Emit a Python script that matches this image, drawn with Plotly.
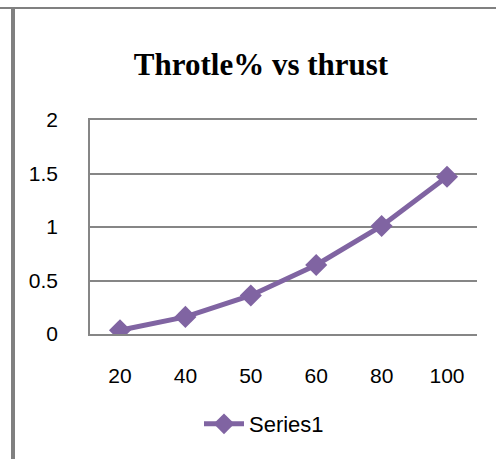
import plotly.graph_objects as go

categories = ["20", "40", "50", "60", "80", "100"]
thrust = [0.035, 0.16, 0.36, 0.645, 1.01, 1.47]
y_ticks = [0, 0.5, 1, 1.5, 2]
y_tick_labels = ["0", "0.5", "1", "1.5", "2"]

W, H = 496, 459
L, R, T, B = 90, 19, 120, 125
pw, ph = W - L - R, H - T - B

def px_x(p):
    return (p - L) / pw

def px_y(p):
    return (H - B - p) / ph

purple = "#8064A2"
grid = "#868686"

fig = go.Figure()
fig.add_trace(go.Scatter(
    x=categories, y=thrust, mode="lines+markers", name="Series1",
    line=dict(color=purple, width=5),
    marker=dict(symbol="diamond", size=17, color=purple),
))

fig.update_layout(
    width=W, height=H,
    margin=dict(l=L, r=R, t=T, b=B, autoexpand=False),
    paper_bgcolor="white", plot_bgcolor="white",
    title=dict(text="<b>Throtle% vs thrust</b>", x=261 / W,
               xanchor="center", y=1 - 64 / H, yanchor="middle",
               font=dict(family="Liberation Serif", size=31, color="black")),
    font=dict(family="Liberation Sans", size=21, color="black"),
    showlegend=True,
    legend=dict(orientation="h", x=px_x(264), xanchor="center", y=px_y(424), yanchor="middle",
                font=dict(size=22), itemwidth=40),
    xaxis=dict(type="category", showgrid=False, showline=True, mirror=True, linecolor=grid,
               linewidth=1.5, ticks="", tickfont=dict(size=21), ticklabelstandoff=22,
               zeroline=False),
    yaxis=dict(range=[0, 2], tickvals=y_ticks, ticktext=y_tick_labels, showgrid=True,
               gridcolor=grid, gridwidth=1.5, showline=True, linecolor=grid, linewidth=1.5,
               ticks="", tickfont=dict(size=21), ticklabelstandoff=26, zeroline=False),
    shapes=[
        dict(type="line", xref="paper", yref="paper", x0=px_x(0), x1=px_x(W), y0=px_y(8), y1=px_y(8),
             line=dict(color="#808080", width=2)),
        dict(type="line", xref="paper", yref="paper", x0=px_x(13), x1=px_x(13), y0=px_y(9), y1=px_y(H),
             line=dict(color="#808080", width=4)),
    ],
)
fig.write_html("out.html", config={"displayModeBar": False},
               post_script="document.body.style.margin='0';")
